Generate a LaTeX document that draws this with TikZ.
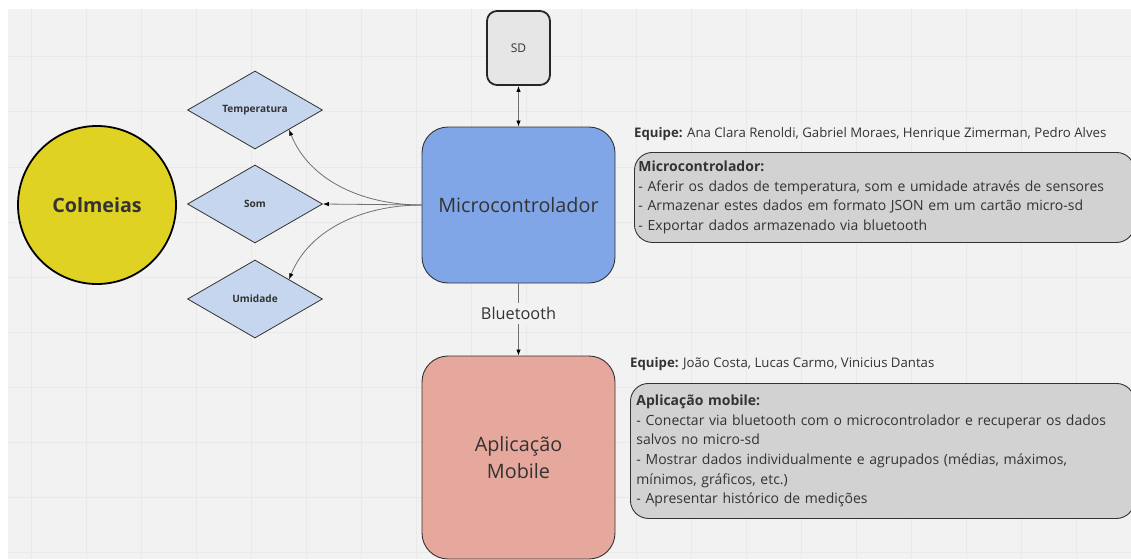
\documentclass[tikz,border=0pt]{standalone}
\usepackage{fontspec}
\setmainfont{Open Sans}
\usetikzlibrary{shapes.geometric,arrows.meta}

\definecolor{canvas}{HTML}{F2F2F2}
\definecolor{gridc}{HTML}{E9E9E9}
\definecolor{hivefill}{HTML}{E0D222}
\definecolor{sensorfill}{HTML}{C6D6EF}
\definecolor{mcufill}{HTML}{80A6E8}
\definecolor{appfill}{HTML}{E6A79C}
\definecolor{sdfill}{HTML}{E6E6E6}
\definecolor{notefill}{HTML}{D2D2D2}
\definecolor{ink}{HTML}{333333}
\definecolor{wire}{HTML}{707070}

\tikzset{
  hive/.style={circle, draw=black, line width=1.8pt, fill=hivefill,
    minimum size=158pt, inner sep=0pt, text=ink,
    font=\bfseries\fontsize{19.7}{22}\selectfont},
  sensor/.style={diamond, draw=ink, line width=0.8pt, fill=sensorfill,
    aspect=1.7, minimum width=135pt, minimum height=78pt, inner sep=0pt,
    text=ink, font=\bfseries\fontsize{10.1}{12}\selectfont},
  block/.style={rectangle, rounded corners=26pt, draw=ink, line width=0.9pt,
    minimum width=193pt, inner sep=0pt, align=center, text=ink,
    font=\fontsize{19.8}{27}\selectfont},
  sdbox/.style={rectangle, rounded corners=10pt, draw=black!85, line width=1.8pt,
    fill=sdfill, minimum width=63pt, minimum height=74pt, inner sep=0pt,
    text=ink, font=\fontsize{12}{14}\selectfont},
  notebox/.style={rectangle, rounded corners=18pt, draw=ink, line width=0.9pt,
    fill=notefill, anchor=north west, inner xsep=4pt, inner ysep=0pt,
    text width=492pt, align=left, text=ink,
    font=\fontsize{14}{19.7}\selectfont},
  team/.style={anchor=west, inner sep=0pt, text=ink,
    font=\fontsize{13.2}{15}\selectfont},
  link/.style={draw=wire, line width=0.8pt,
    -{Latex[length=6pt,width=4.5pt,color=black]}},
}

\begin{document}
\begin{tikzpicture}[x=1pt,y=-1pt]
  % canvas and grid
  \useasboundingbox (0,0) rectangle (1131,559);
  \fill[white] (0,0) rectangle (1131,559);
  \fill[canvas] (8,9) rectangle (1131,559);
  \foreach \gx in {31,86,...,1131} \draw[gridc, line width=1pt] (\gx,9) -- (\gx,559);
  \foreach \gy in {57,112,...,559} \draw[gridc, line width=1pt] (8,\gy) -- (1131,\gy);

  % hive
  \node[hive] (colmeias) at (97,205) {Colmeias};

  % sensors
  \node[sensor] (temp) at (255,110) {Temperatura};
  \node[sensor] (som)  at (255,204) {Som};
  \node[sensor] (umid) at (255,299) {Umidade};

  % main blocks
  \node[block, fill=mcufill, minimum height=156pt] (micro) at (518.5,205) {Microcontrolador};
  \node[sdbox] (sd) at (518.5,48) {SD};
  \node[block, fill=appfill, minimum height=203pt] (app) at (518.5,457.5) {Aplicação\\Mobile};

  % connectors
  \draw[link, {Latex[length=6pt,width=4.5pt,color=black]}-{Latex[length=6pt,width=4.5pt,color=black]}] (sd) -- (micro);
  \draw[link] (micro) -- node[pos=0.42, fill=canvas, inner xsep=2pt, inner ysep=4pt, text=ink,
      font=\fontsize{16.3}{19}\selectfont] (bt) {Bluetooth} (app);
  \draw[link] (micro.west) -- (som.east);
  \draw[link] (micro.west) .. controls (365,205) and (310,182) .. (temp.-30);
  \draw[link] (micro.west) .. controls (365,205) and (310,228) .. (umid.30);

  % team labels
  \node[team] (team1) at (634,134) {\textbf{Equipe:} Ana Clara Renoldi, Gabriel Moraes, Henrique Zimerman, Pedro Alves};
  \node[team] (team2) at (630,364) {\textbf{Equipe:} João Costa, Lucas Carmo, Vinicius Dantas};

  % notes
  \node[notebox, minimum width=500pt, minimum height=90pt] (note1) at (634,152) {%
    \textbf{Microcontrolador:}\\
    - Aferir os dados de temperatura, som e umidade através de sensores\\
    - Armazenar estes dados em formato JSON em um cartão micro-sd\\
    - Exportar dados armazenado via bluetooth};
  \node[notebox, minimum width=504pt, minimum height=135pt] (note2) at (630,383) {%
    \textbf{Aplicação mobile:}\\
    - Conectar via bluetooth com o microcontrolador e recuperar os dados\\
    salvos no micro-sd\\
    - Mostrar dados individualmente e agrupados (médias, máximos,\\
    mínimos, gráficos, etc.)\\
    - Apresentar histórico de medições};
\end{tikzpicture}
\end{document}
